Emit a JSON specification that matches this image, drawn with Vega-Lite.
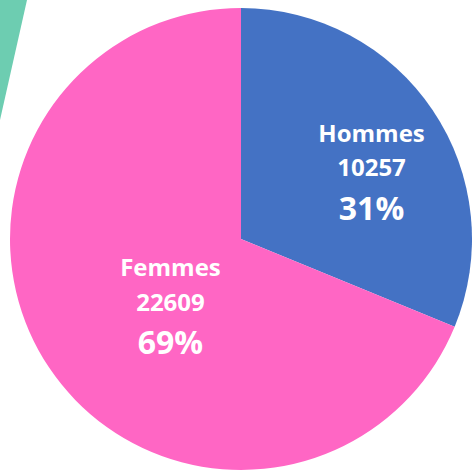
{
  "$schema": "https://vega.github.io/schema/vega-lite/v6.json",
  "width": 466,
  "height": 466,
  "autosize": "none",
  "padding": {"left": 8, "top": 6, "right": 0, "bottom": 0},
  "background": "white",
  "config": {"view": {"stroke": null}},
  "datasets": {
    "genre": [
      {"sexe": "Hommes", "effectif": 10257},
      {"sexe": "Femmes", "effectif": 22609}
    ],
    "deco": [
      {"px": 19, "py": -6},
      {"px": -8, "py": 114}
    ]
  },
  "layer": [
    {
      "data": {"name": "deco"},
      "mark": {"type": "area", "color": "#6DCDB1", "clip": false},
      "encoding": {
        "y": {"field": "py", "type": "quantitative", "scale": {"domain": [0, 466], "reverse": true, "zero": false, "nice": false}, "axis": null},
        "x": {"field": "px", "type": "quantitative", "scale": {"domain": [0, 466], "zero": false, "nice": false}, "axis": null},
        "x2": {"datum": -8}
      }
    },
    {
      "data": {"name": "genre"},
      "layer": [
        {
          "mark": {"type": "arc", "outerRadius": 231},
          "encoding": {
            "theta": {"field": "effectif", "type": "quantitative", "stack": true},
            "order": {"field": "effectif", "sort": "ascending"},
            "color": {
              "field": "sexe", "type": "nominal",
              "scale": {"domain": ["Hommes", "Femmes"], "range": ["#4472C4", "#FF66C4"]},
              "legend": null
            }
          }
        },
        {
          "transform": [{"calculate": "datum.sexe + '\\n' + datum.effectif", "as": "etiquette"}],
          "mark": {"type": "text", "radius": 121, "dx": 30, "dy": -37, "font": "Open Sans", "fontWeight": "bold", "fontSize": 24, "lineBreak": "\n", "lineHeight": 34.5, "color": "white", "align": "center", "baseline": "middle"},
          "encoding": {
            "theta": {"field": "effectif", "type": "quantitative", "stack": true},
            "order": {"field": "effectif", "sort": "ascending"},
            "text": {"field": "etiquette"}
          }
        },
        {
          "transform": [
            {"joinaggregate": [{"op": "sum", "field": "effectif", "as": "total"}]},
            {"calculate": "datum.effectif / datum.total", "as": "part"}
          ],
          "mark": {"type": "text", "radius": 121, "dx": 30, "dy": 38, "font": "Open Sans", "fontWeight": "bold", "fontSize": 32, "color": "white", "align": "center", "baseline": "middle"},
          "encoding": {
            "theta": {"field": "effectif", "type": "quantitative", "stack": true},
            "order": {"field": "effectif", "sort": "ascending"},
            "text": {"field": "part", "type": "quantitative", "format": ".0%"}
          }
        }
      ]
    }
  ]
}
